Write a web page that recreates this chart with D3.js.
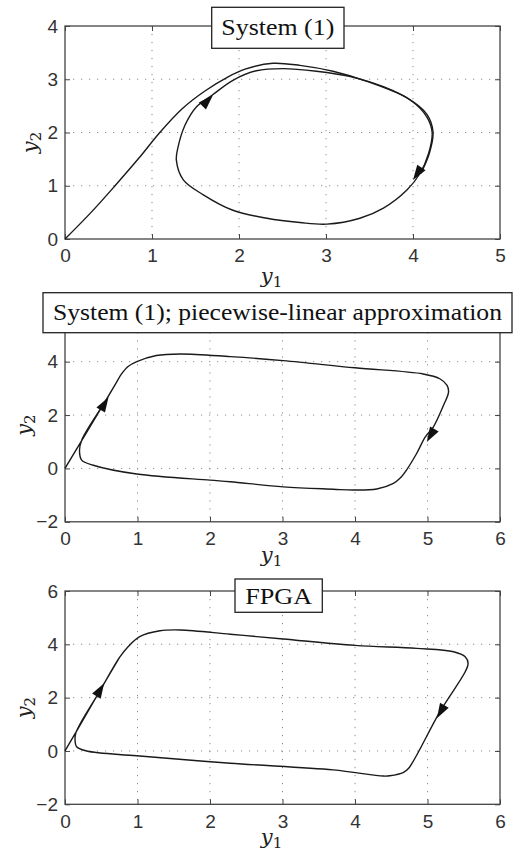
<!DOCTYPE html>
<html><head><meta charset="utf-8">
<script src="https://cdn.jsdelivr.net/npm/d3@7"></script>
<style>body{margin:0;background:#fff}svg{display:block}</style>
</head><body><svg id="c" width="513" height="852"></svg>
<script>
// ---------- data ----------
const titles = ["System (1)", "System (1); piecewise-linear approximation", "FPGA"];
const xDomains = [[0, 5], [0, 6], [0, 6]];
const yDomains = [[0, 4], [-2, 6], [-2, 6]];
const xTicksA = [0, 1, 2, 3, 4, 5];
const xTicksB = [0, 1, 2, 3, 4, 5, 6];
const yTicksA = [0, 1, 2, 3, 4];
const yTicksMid = [-2, 0, 2, 4];
const yTicksB = [-2, 0, 2, 4, 6];

// Panel 1: System (1) – transient from origin, then limit cycle
const sysTransX = [0, 0.30, 0.575, 0.85, 1.09, 1.35, 1.60, 1.88, 2.07, 2.39, 2.70, 3.08, 3.47, 3.93, 4.16, 4.23, 4.19, 4.09];
const sysTransY = [0, 0.50, 1.00, 1.52, 2.00, 2.45, 2.77, 3.05, 3.19, 3.30, 3.26, 3.15, 2.96, 2.65, 2.34, 2.01, 1.62, 1.23];
const sysCycleX = [4.22, 4.18, 4.08, 3.93, 3.66, 3.39, 3.01, 2.70, 2.32, 1.93, 1.59, 1.36, 1.28, 1.30, 1.38, 1.51, 1.69, 1.93, 2.20, 2.51, 2.89, 3.28, 3.66, 3.97, 4.16];
const sysCycleY = [2.0, 1.61, 1.23, 0.92, 0.58, 0.39, 0.28, 0.31, 0.39, 0.54, 0.83, 1.11, 1.48, 1.73, 2.14, 2.48, 2.70, 2.98, 3.16, 3.20, 3.15, 3.05, 2.86, 2.61, 2.29];

// Panel 2: piecewise-linear approximation
const pwlX = [0, 0.23, 0.55, 0.70, 0.78, 0.87, 0.99, 1.26, 1.59, 2.28, 3.01, 4.0, 4.94, 5.17, 5.27, 5.29, 5.22, 5.08, 4.97, 4.85, 4.71, 4.62, 4.53, 4.30, 3.98, 3.70, 3.01, 2.28, 2.0, 0.99, 0.39, 0.23, 0.20, 0.23, 0.55, 0.70];
const pwlY = [0, 1.04, 2.49, 3.18, 3.54, 3.82, 4.0, 4.23, 4.29, 4.19, 4.04, 3.77, 3.54, 3.36, 3.11, 2.86, 2.36, 1.55, 1.18, 0.56, -0.06, -0.37, -0.56, -0.77, -0.81, -0.78, -0.69, -0.50, -0.44, -0.21, 0.12, 0.31, 0.68, 1.06, 2.49, 3.18];

// Panel 3: FPGA
const fpgaX = [0, 0.15, 0.48, 0.75, 0.87, 1.03, 1.31, 1.59, 2.28, 3.01, 4.0, 4.85, 5.36, 5.52, 5.56, 5.52, 5.17, 4.74, 4.67, 4.48, 4.39, 3.70, 2.28, 0.99, 0.30, 0.16, 0.14, 0.15, 0.48, 0.75];
const fpgaY = [0, 0.70, 2.25, 3.50, 3.91, 4.29, 4.51, 4.54, 4.38, 4.20, 3.96, 3.85, 3.72, 3.53, 3.28, 2.97, 1.47, -0.65, -0.80, -0.93, -0.94, -0.71, -0.46, -0.18, 0.0, 0.16, 0.35, 0.68, 2.25, 3.50];

// arrowheads: tip and a point behind it on the curve (per panel, two arrows)
const arrowTipX = [[1.70, 4.00], [0.60, 4.99], [0.54, 5.13]];
const arrowTipY = [[2.70, 1.11], [2.67, 0.99], [2.54, 1.23]];
const arrowTailX = [[1.55, 4.12], [0.45, 5.10], [0.42, 5.25]];
const arrowTailY = [[2.45, 1.40], [2.00, 1.50], [2.00, 1.80]];

// ---------- layout ----------
const layout = [
  {top: 26, bottom: 239, box: [211.7, 7.3, 132.3, 41], textW: 113, titleBase: 35, xlabBase: 283, ylabX: 37},
  {top: 308.3, bottom: 521.8, box: [43, 292.7, 469, 40], textW: 449, titleBase: 320, xlabBase: 562, ylabX: 31},
  {top: 591, bottom: 804.3, box: [235, 579, 87.3, 33.3], textW: 67, titleBase: 603.5, xlabBase: 844, ylabX: 31}
];
const L = 65, R = 500;
const svg = d3.select("#c");
const curves = [
  [[sysTransX, sysTransY, false], [sysCycleX, sysCycleY, true]],
  [[pwlX, pwlY, false]],
  [[fpgaX, fpgaY, false]]
];
const xTickSets = [xTicksA, xTicksB, xTicksB];
const yTickSets = [yTicksA, yTicksB, yTicksB];
const yLabelSets = [yTicksA, yTicksMid, yTicksB];
const fmt = d => d < 0 ? "\u2212" + Math.abs(d) : String(d);

layout.forEach((P, i) => {
  const x = d3.scaleLinear().domain(xDomains[i]).range([L, R]);
  const y = d3.scaleLinear().domain(yDomains[i]).range([P.bottom, P.top]);
  const g = svg.append("g");
  // grid
  xTickSets[i].filter(t => t > xDomains[i][0] && t < xDomains[i][1]).forEach(t => {
    g.append("line").attr("x1", x(t)).attr("x2", x(t)).attr("y1", P.top).attr("y2", P.bottom)
      .attr("stroke", "#8a8a8a").attr("stroke-width", 1).attr("stroke-dasharray", "1.2,6.8");
  });
  yTickSets[i].filter(t => t > yDomains[i][0] && t < yDomains[i][1]).forEach(t => {
    g.append("line").attr("x1", L).attr("x2", R).attr("y1", y(t)).attr("y2", y(t))
      .attr("stroke", "#8a8a8a").attr("stroke-width", 1).attr("stroke-dasharray", "1.2,6.8");
  });
  // axes via d3 axes (ticks inward)
  const axB = d3.axisBottom(x).tickValues(xTickSets[i]).tickFormat(fmt).tickSize(-5).tickPadding(10);
  const axT = d3.axisTop(x).tickValues(xTickSets[i]).tickFormat("").tickSize(-5);
  const axLft = d3.axisLeft(y).tickValues(yLabelSets[i]).tickFormat(fmt).tickSize(-5).tickPadding(7);
  const axRt = d3.axisRight(y).tickValues(yTickSets[i]).tickFormat("").tickSize(-5);
  const style = sel => {
    sel.attr("font-size", null).attr("font-family", null);
    sel.select(".domain").remove();
    sel.selectAll("line").attr("stroke", "#444");
    sel.selectAll("text").attr("fill", "#333").attr("font-family", "Liberation Sans, Arial, sans-serif").attr("font-size", 19);
  };
  g.append("g").attr("transform", `translate(0,${P.bottom})`).call(axB).call(style);
  g.append("g").attr("transform", `translate(0,${P.top})`).call(axT).call(style);
  g.append("g").attr("transform", `translate(${L},0)`).call(axLft).call(style);
  g.append("g").attr("transform", `translate(${R},0)`).call(axRt).call(style);
  g.append("rect").attr("x", L).attr("y", P.top).attr("width", R - L).attr("height", P.bottom - P.top)
    .attr("fill", "none").attr("stroke", "#444").attr("stroke-width", 1.3);

  // curves
  curves[i].forEach(([cx, cy, closed]) => {
    const pts = cx.map((v, k) => [v, cy[k]]);
    const line = d3.line().x(d => x(d[0])).y(d => y(d[1]))
      .curve(closed ? d3.curveCatmullRomClosed.alpha(0.5) : d3.curveCatmullRom.alpha(0.5));
    g.append("path").attr("d", line(pts)).attr("fill", "none").attr("stroke", "#1a1a1a").attr("stroke-width", 1.4);
  });
  // arrows
  arrowTipX[i].forEach((tx, k) => {
    const px = x(tx), py = y(arrowTipY[i][k]);
    const qx = x(arrowTailX[i][k]), qy = y(arrowTailY[i][k]);
    const a = Math.atan2(py - qy, px - qx);
    const len = 15, hw = 5;
    const bx = px - len * Math.cos(a), by = py - len * Math.sin(a);
    const nx = -Math.sin(a) * hw, ny = Math.cos(a) * hw;
    g.append("path").attr("d", `M${px},${py}L${bx + nx},${by + ny}L${bx - nx},${by - ny}Z`).attr("fill", "#111");
  });

  // axis labels
  const xl = g.append("text").attr("x", (L + R) / 2 - 11).attr("y", P.xlabBase).attr("text-anchor", "middle")
    .attr("font-family", "DejaVu Serif, serif").attr("font-style", "italic").attr("font-size", 21).attr("fill", "#222");
  xl.append("tspan").text("y");
  xl.append("tspan").attr("dy", 4).attr("font-size", 15).attr("font-style", "normal").text("1");
  const yc = (P.top + P.bottom) / 2 + 10;
  const yl = g.append("text").attr("transform", `translate(${P.ylabX},${yc}) rotate(-90)`).attr("text-anchor", "middle")
    .attr("font-family", "DejaVu Serif, serif").attr("font-style", "italic").attr("font-size", 21).attr("fill", "#222");
  yl.append("tspan").text("y");
  yl.append("tspan").attr("dy", 4).attr("font-size", 15).attr("font-style", "normal").text("2");

  // title box
  const [bx, by, bw, bh] = P.box;
  g.append("rect").attr("x", bx).attr("y", by).attr("width", bw).attr("height", bh)
    .attr("fill", "#fff").attr("stroke", "#222").attr("stroke-width", 1.3);
  g.append("text").attr("x", bx + bw / 2).attr("y", P.titleBase).attr("text-anchor", "middle")
    .attr("font-family", "Liberation Serif, Times New Roman, serif").attr("font-size", 24).attr("fill", "#111")
    .attr("textLength", P.textW).attr("lengthAdjust", "spacingAndGlyphs").text(titles[i]);
});
</script></body></html>
